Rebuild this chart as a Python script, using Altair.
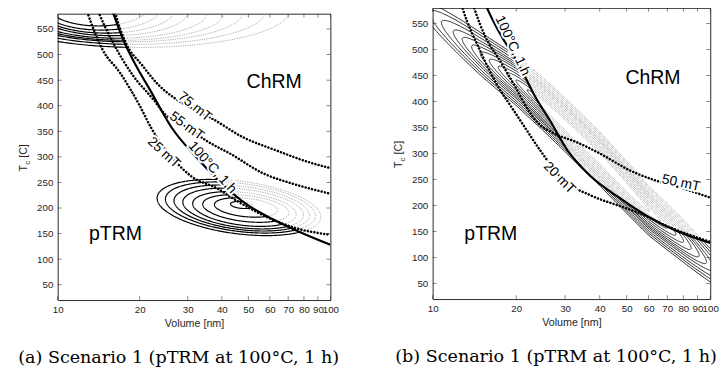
import numpy as np
import pandas as pd
import altair as alt

FONT = "Liberation Sans"
SERIF = "DejaVu Serif"
INK = "#262626"

X_TICKS = [10, 20, 30, 40, 50, 60, 70, 80, 90, 100]
Y_TICKS = [50, 100, 150, 200, 250, 300, 350, 400, 450, 500, 550]

# ---------------- panel (a) ----------------
A_CURVE_V = [15.0, 16.0, 17.4, 19.3, 21.7, 26.2, 32.7, 39.6, 50.0, 61.5, 75.0, 100.0]
A_CURVE_T = [620, 580, 529, 480, 433, 357, 296, 250, 205, 178, 156, 128]
A_25_V = [12.2, 12.9, 14.6, 16.9, 19.95, 22.0, 24.5, 27.7, 30.9, 38.5, 45.4, 56.6, 74.3, 100]
A_25_T = [620, 580, 510, 465, 401, 357, 319, 285, 262, 238, 214, 186, 161, 147.6]
A_55_V = [13.3, 14.2, 15.8, 18.9, 22.3, 24.8, 29.7, 35.5, 43.0, 56.6, 74.4, 100]
A_55_T = [620, 580, 528, 459, 414, 383, 358, 330, 306, 268, 246, 228]
A_75_V = [15.7, 16.3, 17.6, 20.5, 23.5, 27.0, 31.0, 36.5, 48.0, 63.0, 83.0, 100]
A_75_T = [620, 580, 528, 478, 440, 414, 395, 376, 338, 313, 290, 278]

# lower contour family: centre (nm, C), half width (decades), half height (C), skew (decades)
A_LOW_V = [46.2, 46.8, 47.3, 47.9, 48.4, 49.0, 49.0, 47.3]
A_LOW_T = [201, 201, 200, 199, 198, 199, 201, 206]
A_LOW_HW = [0.283, 0.26, 0.235, 0.21, 0.18, 0.15, 0.11, 0.04]
A_LOW_HH = [55, 50, 45, 40, 34, 27, 19, 7]
A_LOW_SK = [-0.10, -0.09, -0.08, -0.07, -0.06, -0.05, -0.035, -0.01]

# upper contour family
A_TOP_V = [19.95, 19.05, 18.2, 17.4, 16.6, 15.85, 15.1, 14.45, 14.1]
A_TOP_T = [586, 584, 583, 582, 583, 585, 588, 592, 598]
A_TOP_HW = [0.55, 0.48, 0.42, 0.37, 0.33, 0.28, 0.25, 0.22, 0.19]
A_TOP_HH = [72, 64, 58, 54, 51, 48, 46, 44, 42]

A_LABELS = ["75 mT", "55 mT", "25 mT", "100°C, 1 h"]
A_LABEL_V = [31.8, 29.7, 24.5, 36.9]
A_LABEL_T = [398, 360, 308, 279]
A_LABEL_ANGLE = [39, 36, 43, 48]

# ---------------- panel (b) ----------------
B_CURVE_V = [14.3, 15.7, 17.5, 20.5, 23.2, 26.5, 30.7, 37.1, 47.0, 60.0, 75.0, 100]
B_CURVE_T = [640, 580, 530, 470, 413, 363, 305, 256, 215, 178, 152, 128]
B_20_V = [11.9, 12.8, 14.9, 17.1, 19.3, 21.5, 24.4, 29.1, 37.6, 46.6, 55.0, 70.0, 100]
B_20_T = [640, 580, 495, 431, 388, 350, 306, 253, 218, 200, 186, 160, 130]
B_50_V = [13.0, 14.1, 15.5, 17.5, 20.0, 22.0, 24.0, 27.0, 32.9, 40.0, 52.0, 62.0, 78.5, 100]
B_50_T = [640, 580, 524, 478, 425, 385, 358, 340, 322, 300, 266, 250, 234, 215]

# elongated contour band: centre line, ring centres, half lengths (decades), half widths (C)
B_BAND_V = [8.0, 10, 15, 20, 25, 30, 40, 50, 60, 75, 100, 130]
B_BAND_T = [600, 565, 490, 440, 395, 355, 290, 235, 190, 145, 85, 50]
B_RING_V = [34.3, 34.5, 34.8, 35.0, 35.2, 35.5, 35.6, 35.8, 36.0, 36.1, 36.3, 36.3]
B_RING_HW = [0.59, 0.55, 0.51, 0.47, 0.44, 0.41, 0.38, 0.35, 0.32, 0.29, 0.26, 0.22]
B_RING_HH = [52, 48, 44, 40, 37, 34, 31, 27, 23, 19, 15, 11]

B_LABELS = ["100°C, 1 h", "20 mT", "50 mT"]
B_LABEL_V = [19.4, 28.6, 78.5]
B_LABEL_T = [507, 253, 243]
B_LABEL_ANGLE = [65, 45, 12]

REGION_NAMES = ["ChRM", "pTRM"]
A_REGION_V = [62.2, 16.3]
A_REGION_T = [446, 148]
B_REGION_V = [62.2, 16.2]
B_REGION_T = [445, 144]

CAPTION_A = "(a) Scenario 1 (pTRM at 100°C, 1 h)"
CAPTION_B = "(b) Scenario 1 (pTRM at 100°C, 1 h)"

# ---------------- build line table ----------------
rows = []


def add_split(panel, name, u, T, cv, ct):
    cu = np.log10(np.array(cv)) - 1
    side = T > np.interp(u, cu, np.array(ct, dtype=float))
    n = len(u)
    start, seg = 0, 0
    for k in range(1, n + 1):
        if k == n or side[k] != side[start]:
            kind = "dot" if side[start] else "ring"
            for j, m in enumerate(range(start, min(k + 1, n))):
                rows.append((panel, f"{name}-{seg}", j, 10 ** (1 + u[m]), T[m], kind))
            seg += 1
            start = k


t = np.linspace(0, 2 * np.pi, 361)
for i in range(len(A_LOW_V)):
    u = np.log10(A_LOW_V[i]) - 1 + A_LOW_HW[i] * np.cos(t) + A_LOW_SK[i] * np.sin(t)
    T = A_LOW_T[i] + A_LOW_HH[i] * np.sin(t)
    add_split("a", f"low{i}", u, T, A_CURVE_V, A_CURVE_T)
for i in range(len(A_TOP_V)):
    u = np.log10(A_TOP_V[i]) - 1 + A_TOP_HW[i] * np.cos(t)
    T = A_TOP_T[i] + A_TOP_HH[i] * np.sin(t)
    add_split("a", f"top{i}", u, T, A_CURVE_V, A_CURVE_T)

band_u = np.log10(np.array(B_BAND_V)) - 1
for i in range(len(B_RING_V)):
    u = np.log10(B_RING_V[i]) - 1 + B_RING_HW[i] * np.cos(t)
    T = np.interp(u, band_u, np.array(B_BAND_T, dtype=float)) + B_RING_HH[i] * np.sin(t)
    add_split("b", f"band{i}", u, T, B_CURVE_V, B_CURVE_T)


def add_series(panel, name, vs, ts, kind):
    for j, (v, tt) in enumerate(zip(vs, ts)):
        rows.append((panel, name, j, v, tt, kind))


add_series("a", "c100", A_CURVE_V, A_CURVE_T, "curve")
add_series("a", "m25", A_25_V, A_25_T, "field")
add_series("a", "m55", A_55_V, A_55_T, "field")
add_series("a", "m75", A_75_V, A_75_T, "field")
add_series("b", "c100", B_CURVE_V, B_CURVE_T, "curve")
add_series("b", "m20", B_20_V, B_20_T, "field")
add_series("b", "m50", B_50_V, B_50_T, "field")

DF = pd.DataFrame(rows, columns=["panel", "seg", "i", "V", "T", "kind"])
XT = pd.DataFrame({"V": X_TICKS})
YT = pd.DataFrame({"T": Y_TICKS})


def make_panel(p, W, H, labels, lv, lt, la, rv, rt, ring_color, ring_width, gray_color, caption):
    xs = alt.Scale(type="log", domain=[10, 100], nice=False)
    ys = alt.Scale(domain=[20, 580], nice=False, zero=False)

    ax_x = alt.Axis(orient="bottom", values=X_TICKS, format="d", ticks=False, domain=False,
                    grid=False, labelFont=FONT, labelFontSize=10, labelColor=INK,
                    labelPadding=5, labelOverlap=False, labelBound=False, labelFlush=False,
                    title="Volume [nm]", titleFont=FONT, titleFontSize=11,
                    titleFontWeight="normal", titleColor=INK, titlePadding=3)
    ax_y = alt.Axis(orient="left", values=Y_TICKS, ticks=False, domain=False, grid=False,
                    labelFont=FONT, labelFontSize=10, labelColor=INK, labelPadding=5,
                    labelOverlap=False, labelBound=False, labelFlush=False, title="")

    d = DF[DF.panel == p]
    X0 = alt.X("V:Q", scale=xs, axis=ax_x)
    Y0 = alt.Y("T:Q", scale=ys, axis=ax_y)

    gray = alt.Chart(d[d.kind == "dot"]).mark_line(
        clip=True, color=gray_color, strokeWidth=1.0, strokeDash=[0.01, 1.8], strokeCap="round"
    ).encode(x=X0, y=Y0, detail="seg:N", order="i:Q")
    ring = alt.Chart(d[d.kind == "ring"]).mark_line(
        clip=True, color=ring_color, strokeWidth=ring_width
    ).encode(x=X0, y=Y0, detail="seg:N", order="i:Q")
    field = alt.Chart(d[d.kind == "field"]).mark_line(
        clip=True, color="black", strokeWidth=2.6, strokeDash=[0.01, 3.4], strokeCap="round",
        interpolate="monotone"
    ).encode(x=X0, y=Y0, detail="seg:N", order="i:Q")
    curve = alt.Chart(d[d.kind == "curve"]).mark_line(
        clip=True, color="black", strokeWidth=2.2, interpolate="monotone"
    ).encode(x=X0, y=Y0, detail="seg:N", order="i:Q")

    # inward tick marks on all four sides (MATLAB box style)
    tk = dict(color=INK, size=4, thickness=0.8)
    xt_bot = alt.Chart(XT).mark_tick(orient="vertical", **tk).encode(x=X0, y=alt.value(H - 2))
    xt_top = alt.Chart(XT).mark_tick(orient="vertical", **tk).encode(x=X0, y=alt.value(2))
    yt_left = alt.Chart(YT).mark_tick(orient="horizontal", **tk).encode(y=Y0, x=alt.value(2))
    yt_right = alt.Chart(YT).mark_tick(orient="horizontal", **tk).encode(y=Y0, x=alt.value(W - 2))

    lab_df = pd.DataFrame({"txt": labels, "V": lv, "T": lt, "ang": la})
    lab_enc = dict(x=X0, y=Y0, text="txt:N", angle=alt.Angle("ang:Q", scale=None))
    halo = alt.Chart(lab_df).mark_text(font=FONT, fontSize=14, stroke="white", strokeWidth=4,
                                       color="white").encode(**lab_enc)
    lab = alt.Chart(lab_df).mark_text(font=FONT, fontSize=14, color="black").encode(**lab_enc)

    reg_df = pd.DataFrame({"txt": REGION_NAMES, "V": rv, "T": rt})
    reg = alt.Chart(reg_df).mark_text(font=FONT, fontSize=20, color="black").encode(
        x=X0, y=Y0, text="txt:N")

    one = pd.DataFrame({"a": [0]})
    y0 = H / 2 + 15
    t_main = alt.Chart(one).mark_text(text="T", font=FONT, fontSize=11, color=INK, angle=270,
                                      align="left", baseline="alphabetic").encode(
        x=alt.value(-31), y=alt.value(y0))
    t_sub = alt.Chart(one).mark_text(text="c", font=FONT, fontSize=8, color=INK, angle=270,
                                     align="left", baseline="alphabetic").encode(
        x=alt.value(-28), y=alt.value(y0 - 6.8))
    t_unit = alt.Chart(one).mark_text(text="[C]", font=FONT, fontSize=11, color=INK, angle=270,
                                      align="left", baseline="alphabetic").encode(
        x=alt.value(-31), y=alt.value(y0 - 14))

    layers = [gray, ring, field, curve, xt_bot, xt_top, yt_left, yt_right,
              halo, lab, reg, t_main, t_sub, t_unit]
    return alt.layer(*layers).properties(
        width=W, height=H,
        title=alt.TitleParams(caption, orient="bottom", anchor="middle", frame="bounds",
                              font=SERIF, fontSize=18, fontWeight="normal", color="black",
                              offset=22))


pa = make_panel("a", 280, 294, A_LABELS, A_LABEL_V, A_LABEL_T, A_LABEL_ANGLE,
                A_REGION_V, A_REGION_T, "black", 1.2, "#a0a0a0", CAPTION_A)
pb = make_panel("b", 285, 299, B_LABELS, B_LABEL_V, B_LABEL_T, B_LABEL_ANGLE,
                B_REGION_V, B_REGION_T, "#111111", 0.9, "#8c8c8c", CAPTION_B)

# thin blank strip that lowers panel (a) by a few pixels, as in the reference
spacer = alt.Chart(pd.DataFrame({"a": [0]})).mark_rule(color="white", strokeWidth=1).encode(
    x=alt.value(0), x2=alt.value(1), y=alt.value(0)
).properties(width=280, height=1, view={"strokeOpacity": 0})

left = alt.vconcat(spacer, pa, spacing=4)

chart = alt.hconcat(left, pb, spacing=54).properties(
    padding={"left": 9, "top": -6, "right": 0, "bottom": -2}
).configure_view(stroke=INK, strokeWidth=1)

chart.save("out.html", embed_options={"renderer": "svg", "actions": False})
